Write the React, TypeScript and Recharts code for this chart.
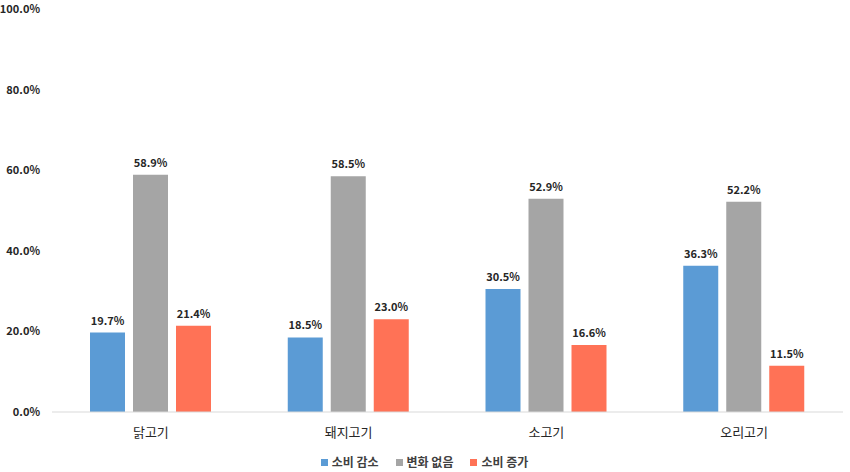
import { Bar, BarChart, LabelList, Legend, XAxis, YAxis } from 'recharts';

const categories = ['닭고기', '돼지고기', '소고기', '오리고기'];
const decrease = [19.7, 18.5, 30.5, 36.3];
const noChange = [58.9, 58.5, 52.9, 52.2];
const increase = [21.4, 23.0, 16.6, 11.5];
const yTicks = [0, 20, 40, 60, 80, 100];

const seriesNames = ['소비 감소', '변화 없음', '소비 증가'];
const seriesColors = ['#5b9bd5', '#a5a5a5', '#ff7256'];

const data = categories.map((name, i) => ({
  name,
  decrease: decrease[i],
  noChange: noChange[i],
  increase: increase[i],
}));

const font = '"Noto Sans CJK KR", "Noto Sans", sans-serif';
const pct = (v: unknown) => `${Number(v).toFixed(1)}%`;

const labelStyle = { fontSize: 11, fontWeight: 700, fill: '#262626', fontFamily: font };

// keep series order in legend (recharts 3 sorts by name otherwise)
function LegendContent() {
  return (
    <div style={{ display: 'flex', justifyContent: 'center', gap: 17, fontFamily: font, paddingTop: 12, paddingLeft: 6 }}>
      {seriesNames.map((n, i) => (
        <div key={n} style={{ display: 'flex', alignItems: 'center', gap: 4 }}>
          <span style={{ width: 7, height: 7, background: seriesColors[i], display: 'inline-block' }} />
          <span style={{ fontSize: 12, fontWeight: 700, color: '#404040', lineHeight: '16px' }}>{n}</span>
        </div>
      ))}
    </div>
  );
}

export default function App() {
  return (
    <div style={{ position: 'absolute', left: 0, top: 0, width: 850, height: 472, background: '#fff', fontFamily: font }}>
      <BarChart
        width={850}
        height={472}
        data={data}
        margin={{ top: 9, right: 7, left: 0, bottom: 0 }}
        barSize={35}
        barGap={8}
      >
        <XAxis
          dataKey="name"
          height={30}
          tickLine={false}
          tickSize={0}
          tickMargin={16}
          axisLine={{ stroke: '#d9d9d9' }}
          tick={{ fontSize: 13, fill: '#262626', fontFamily: font }}
        />
        <YAxis
          width={52}
          domain={[0, 100]}
          ticks={yTicks}
          interval={0}
          axisLine={false}
          tickLine={false}
          tickSize={0}
          tickMargin={12}
          tickFormatter={pct}
          tick={{ fontSize: 11, fontWeight: 700, fill: '#262626', fontFamily: font }}
        />
        <Legend height={30} content={<LegendContent />} />
        <Bar dataKey="decrease" name={seriesNames[0]} fill={seriesColors[0]} isAnimationActive={false}>
          <LabelList dataKey="decrease" position="top" offset={8} formatter={pct} style={labelStyle} />
        </Bar>
        <Bar dataKey="noChange" name={seriesNames[1]} fill={seriesColors[1]} isAnimationActive={false}>
          <LabelList dataKey="noChange" position="top" offset={8} formatter={pct} style={labelStyle} />
        </Bar>
        <Bar dataKey="increase" name={seriesNames[2]} fill={seriesColors[2]} isAnimationActive={false}>
          <LabelList dataKey="increase" position="top" offset={8} formatter={pct} style={labelStyle} />
        </Bar>
      </BarChart>
    </div>
  );
}
